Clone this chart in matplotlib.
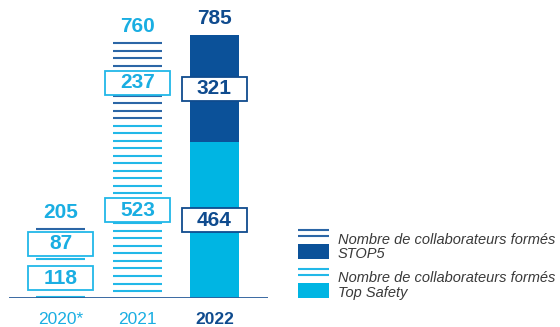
import numpy as np
import matplotlib
matplotlib.use("Agg")
import matplotlib.pyplot as plt
from matplotlib.patches import Rectangle

# trained staff per year
years = ["2020*", "2021", "2022"]
top_safety = [118, 523, 464]
stop5 = [87, 237, 321]
totals = [205, 760, 785]

DARK = "#0b5199"
LIGHT = "#00b5e3"
DARK_LINE = "#2b66a6"
LIGHT_LINE = "#22b8e8"
DARK_TXT = "#0f4b8e"
LIGHT_TXT = "#1aaee2"

plt.rcParams["font.family"] = ["Liberation Sans", "DejaVu Sans"]

fig = plt.figure(figsize=(5.6, 3.27), dpi=100)
ax = fig.add_axes([9 / 560, 29 / 327, 259 / 560, 295 / 327])
ax.set_xlim(-0.669, 2.695)
ax.set_ylim(0, 880)

x = np.arange(len(years))
bw = 0.636
step = 22.4  # spacing of the stripes, in data units

for i in range(len(years)):
    if i == 2:
        # solid stacked bar
        ax.bar(x[i], top_safety[i], width=bw, color=LIGHT, zorder=2)
        ax.bar(x[i], stop5[i], width=bw, bottom=top_safety[i], color=DARK, zorder=2)
    else:
        # striped bar
        ys = np.arange(totals[i], 0, -step)
        cols = [DARK_LINE if y > top_safety[i] else LIGHT_LINE for y in ys]
        ax.hlines(ys, x[i] - bw / 2, x[i] + bw / 2, colors=cols, lw=1.5, zorder=2)

# value boxes
box_w = 0.844
box_h = 72
for i in range(len(years)):
    edge = DARK_TXT if i == 2 else LIGHT_LINE
    tcol = DARK_TXT if i == 2 else LIGHT_TXT
    for val, mid in [(top_safety[i], top_safety[i] / 2),
                     (stop5[i], top_safety[i] + stop5[i] / 2)]:
        ax.add_patch(Rectangle((x[i] - box_w / 2, mid - box_h / 2), box_w, box_h,
                               facecolor="white", edgecolor=edge, lw=1.3, zorder=3))
        ax.text(x[i], mid, str(val), ha="center", va="center", fontsize=15,
                fontweight="bold", color=tcol, zorder=4)
    ax.annotate(str(totals[i]), (x[i], totals[i]), xytext=(0, 12),
                textcoords="offset points", ha="center", va="center",
                fontsize=15, fontweight="bold", color=tcol)

ax.axhline(0, color="#2b5e9b", lw=1.3, zorder=5)
for s in ax.spines.values():
    s.set_visible(False)
ax.set_yticks([])
ax.set_xticks(x)
ax.set_xticklabels(years)
ax.tick_params(axis="x", length=0, pad=10)
for i, lab in enumerate(ax.get_xticklabels()):
    lab.set_fontsize(12.5)
    if i == 2:
        lab.set_color(DARK_TXT)
        lab.set_fontweight("bold")
    else:
        lab.set_color(LIGHT_TXT)

# legend in pixel coordinates
lg = fig.add_axes([0, 0, 1, 1])
lg.set_xlim(0, 560)
lg.set_ylim(327, 0)
lg.axis("off")
legend_items = [
    (DARK_LINE, DARK, 230, "Nombre de collaborateurs formés\nSTOP5"),
    (LIGHT_LINE, LIGHT, 269, "Nombre de collaborateurs formés\nTop Safety"),
]
for lc, fc, y0, label in legend_items:
    lg.hlines([y0, y0 + 6], 298, 329, colors=lc, lw=1.5)
    lg.add_patch(Rectangle((298, y0 + 14), 31, 15, facecolor=fc, edgecolor="none"))
    lg.text(338, y0 + 16.5, label, ha="left", va="center", fontsize=10.5,
            style="italic", color="#3a3a3a", linespacing=1.0)

fig.savefig("out.png", dpi=100)
